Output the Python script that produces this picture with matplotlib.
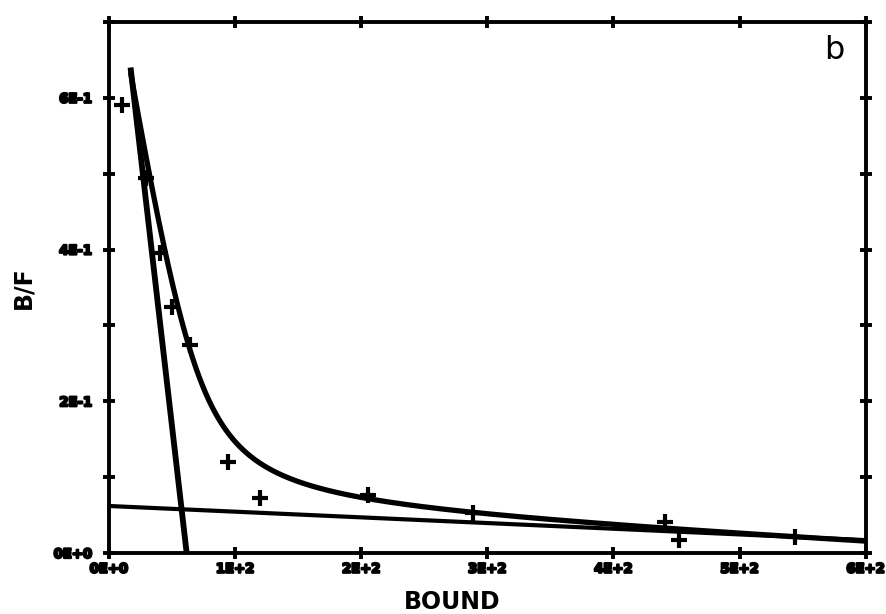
import matplotlib.pyplot as plt
import matplotlib.patheffects as pe
import numpy as np
from matplotlib.ticker import MultipleLocator, FuncFormatter

# measured binding points (bound, bound/free)
bound = [10, 29.3, 40.4, 49.9, 64.2, 94.3, 119.7, 205.3, 288.5, 440.7, 451.8, 543.7]
ratio = [0.59, 0.494, 0.395, 0.324, 0.274, 0.12, 0.0725, 0.0765, 0.053, 0.041, 0.017, 0.021]

# two-site fit: high affinity and low affinity sites
bmax_hi, kd_hi = 70, 95
bmax_lo, kd_lo = 690, 11500
free_lo, free_hi = 27, 38000

# straight-line components (x-intercept = Bmax, y-intercept = Bmax/Kd)
site1_bmax, site1_ratio0 = 61.6, 0.886
site2_bmax, site2_ratio0 = 827, 0.062

x_ticks = [0, 100, 200, 300, 400, 500, 600]
y_ticks = [0, 0.2, 0.4, 0.6]

free = np.geomspace(free_lo, free_hi, 600)
fit_b = bmax_hi * free / (kd_hi + free) + bmax_lo * free / (kd_lo + free)
fit_bf = fit_b / free

line1_x = np.array([fit_b[0], site1_bmax])
line1_y = site1_ratio0 * (1 - line1_x / site1_bmax)
line2_x = np.array([0, 600])
line2_y = site2_ratio0 * (1 - line2_x / site2_bmax)


def sci(v, pos=None):
    if abs(v) < 1e-12:
        return "0E+0"
    e = int(np.floor(np.log10(abs(v)) + 1e-9))
    m = int(round(v / 10 ** e))
    return "%dE%+d" % (m, e)


fig = plt.figure(figsize=(8.86, 6.14), dpi=100)
ax = fig.add_axes([0.123, 0.0993, 0.854, 0.865])

ax.plot(fit_b, fit_bf, color='black', linewidth=3.8, solid_capstyle='butt')
ax.plot(line1_x, line1_y, color='black', linewidth=4.2, solid_capstyle='butt')
ax.plot(line2_x, line2_y, color='black', linewidth=3.0)
ax.plot(bound, ratio, '+', color='black', markersize=11, markeredgewidth=3)

ax.set_xlim(0, 600)
ax.set_ylim(0, 0.7)
ax.set_xticks(x_ticks)
ax.set_yticks(y_ticks)
ax.yaxis.set_minor_locator(MultipleLocator(0.1))
ax.xaxis.set_major_formatter(FuncFormatter(sci))
ax.yaxis.set_major_formatter(FuncFormatter(sci))

for s in ax.spines.values():
    s.set_linewidth(2.8)
ax.tick_params(which='both', direction='inout', length=8, width=2.8,
               top=True, right=True, labelsize=9.5)
ax.tick_params(axis='x', pad=3)
ax.tick_params(axis='y', pad=8)
# heavy, smudgy plotter lettering
for lab in ax.get_xticklabels() + ax.get_yticklabels():
    lab.set_fontweight('bold')
    lab.set_path_effects([pe.withStroke(linewidth=1.6, foreground='black')])

ax.set_xlabel('BOUND', fontsize=17, fontweight='bold',
              family=['Liberation Sans Narrow', 'DejaVu Sans'])
ax.xaxis.set_label_coords(0.453, -0.07)
ax.set_ylabel('B/F', fontsize=17, fontweight='bold',
              family=['Liberation Sans Narrow', 'DejaVu Sans'])
ax.yaxis.set_label_coords(-0.097, 0.5)
ax.text(0.958, 0.947, 'b', transform=ax.transAxes, fontsize=23,
        ha='center', va='center')

fig.savefig('out.png', dpi=100)
